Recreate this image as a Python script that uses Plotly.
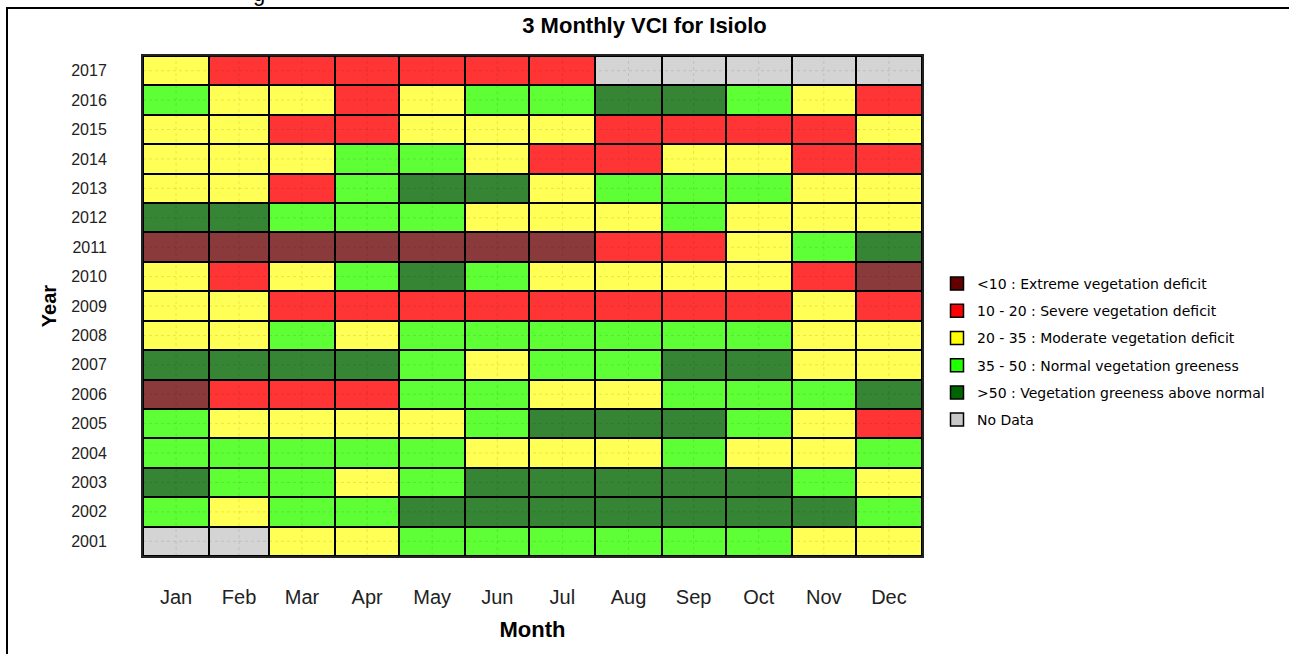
import plotly.graph_objects as go
import numpy as np

# ---------------- data ----------------
months = ["Jan", "Feb", "Mar", "Apr", "May", "Jun", "Jul", "Aug", "Sep", "Oct", "Nov", "Dec"]
month_days = [31, 28, 31, 30, 31, 30, 31, 31, 30, 31, 30, 31]
years = list(range(2001, 2018))

# VCI class per month: E <10, S 10-20, M 20-35, N 35-50, A >50, X no data
vci_2001 = ["X", "X", "M", "M", "N", "N", "N", "N", "N", "N", "M", "M"]
vci_2002 = ["N", "M", "N", "N", "A", "A", "A", "A", "A", "A", "A", "N"]
vci_2003 = ["A", "N", "N", "M", "N", "A", "A", "A", "A", "A", "N", "M"]
vci_2004 = ["N", "N", "N", "N", "N", "M", "M", "M", "N", "M", "M", "N"]
vci_2005 = ["N", "M", "M", "M", "M", "N", "A", "A", "A", "N", "M", "S"]
vci_2006 = ["E", "S", "S", "S", "N", "N", "M", "M", "N", "N", "N", "A"]
vci_2007 = ["A", "A", "A", "A", "N", "M", "N", "N", "A", "A", "M", "M"]
vci_2008 = ["M", "M", "N", "M", "N", "N", "N", "N", "N", "N", "M", "M"]
vci_2009 = ["M", "M", "S", "S", "S", "S", "S", "S", "S", "S", "M", "S"]
vci_2010 = ["M", "S", "M", "N", "A", "N", "M", "M", "M", "M", "S", "E"]
vci_2011 = ["E", "E", "E", "E", "E", "E", "E", "S", "S", "M", "N", "A"]
vci_2012 = ["A", "A", "N", "N", "N", "M", "M", "M", "N", "M", "M", "M"]
vci_2013 = ["M", "M", "S", "N", "A", "A", "M", "N", "N", "N", "M", "M"]
vci_2014 = ["M", "M", "M", "N", "N", "M", "S", "S", "M", "M", "S", "S"]
vci_2015 = ["M", "M", "S", "S", "M", "M", "M", "S", "S", "S", "S", "M"]
vci_2016 = ["N", "M", "M", "S", "M", "N", "N", "A", "A", "N", "M", "S"]
vci_2017 = ["M", "S", "S", "S", "S", "S", "S", "X", "X", "X", "X", "X"]

class_codes = ["E", "S", "M", "N", "A", "X"]
class_labels = [
    "<10 : Extreme vegetation deficit",
    "10 - 20 : Severe vegetation deficit",
    "20 - 35 : Moderate vegetation deficit",
    "35 - 50 : Normal vegetation greeness",
    ">50 : Vegetation greeness above normal",
    "No Data",
]
cell_colors = ["#8a3a3a", "#ff3535", "#ffff55", "#5fff35", "#358535", "#d4d4d4"]
legend_colors = ["#640000", "#ff0000", "#ffff00", "#22ff00", "#006400", "#c8c8c8"]

# ---------------- build ----------------
rows = [vci_2001, vci_2002, vci_2003, vci_2004, vci_2005, vci_2006, vci_2007, vci_2008,
        vci_2009, vci_2010, vci_2011, vci_2012, vci_2013, vci_2014, vci_2015, vci_2016, vci_2017]
z = [[class_codes.index(c) for c in r] for r in rows]
hover = [[class_labels[class_codes.index(c)] for c in r] for r in rows]

edges = np.concatenate([[0], np.cumsum(month_days)])
centers = (edges[:-1] + edges[1:]) / 2

n = len(class_codes)
colorscale = []
for i, c in enumerate(cell_colors):
    colorscale.append([i / n, c])
    colorscale.append([(i + 1) / n, c])

fig = go.Figure()
fig.add_trace(go.Heatmap(
    x=edges, y=years, z=z, zmin=-0.5, zmax=n - 0.5,
    colorscale=colorscale, showscale=False, xgap=2, ygap=2,
    customdata=hover,
    hovertemplate="%{y}<br>%{customdata}<extra></extra>",
    showlegend=False,
))
for i, lab in enumerate(class_labels):
    fig.add_trace(go.Scatter(
        x=[None], y=[None], mode="markers", name=lab, legendgroup=f"g{i}",
        marker=dict(symbol="square", size=13, color=legend_colors[i],
                    line=dict(color="#000000", width=1.5)),
    ))

# faint dotted grid at tick positions, drawn over the cells
for c in centers:
    fig.add_shape(type="line", xref="x", yref="paper", x0=c, x1=c, y0=0, y1=1,
                  line=dict(color="rgba(0,0,0,0.10)", width=1, dash="dot"), layer="above")
for yv in years:
    fig.add_shape(type="line", xref="paper", yref="y", x0=0, x1=1, y0=yv, y1=yv,
                  line=dict(color="rgba(0,0,0,0.10)", width=1, dash="dot"), layer="above")

# outer frame of the image
L, R, T, B = 143, 922, 56, 556
def px_x(p):
    return (p - L) / (R - L)
def px_y(p):
    return (B - p) / (B - T)
fig.add_shape(type="rect", xref="paper", yref="paper",
              x0=px_x(7), x1=px_x(1300), y0=px_y(8), y1=px_y(670),
              line=dict(color="#000000", width=2), fillcolor="rgba(0,0,0,0)", layer="above")
fig.add_annotation(text="g", xref="paper", yref="paper", x=px_x(259), y=px_y(8),
                   xanchor="center", yanchor="bottom", showarrow=False,
                   font=dict(family="Liberation Sans, Arial", size=22, color="#000000"))

fig.update_layout(
    width=1289, height=654,
    margin=dict(l=L, r=1289 - R, t=T, b=654 - B),
    paper_bgcolor="white", plot_bgcolor="#000000",
    title=dict(text="<b>3 Monthly VCI for Isiolo</b>", x=0.5, xref="container",
               y=1 - 25 / 654, yref="container", xanchor="center", yanchor="middle",
               font=dict(family="Liberation Sans, Arial", size=22, color="#000000")),
    legend=dict(x=px_x(937), y=px_y(268), xanchor="left", yanchor="top",
                font=dict(family="DejaVu Sans", size=14, color="#000000"),
                tracegroupgap=6, bgcolor="rgba(0,0,0,0)", itemclick=False),
    hovermode="closest",
)
fig.update_xaxes(
    range=[0, 365], tickvals=centers, ticktext=months, showgrid=False, zeroline=False,
    showline=True, linecolor="#222222", linewidth=2, mirror=True, ticks="",
    ticklabelstandoff=22,
    tickfont=dict(family="Liberation Sans, Arial", size=20, color="#222222"),
    title=dict(text="<b>Month</b>", standoff=15,
               font=dict(family="Liberation Sans, Arial", size=22, color="#000000")),
)
fig.update_yaxes(
    range=[2000.5, 2017.5], tickvals=years, ticktext=[str(y) for y in years],
    showgrid=False, zeroline=False,
    showline=True, linecolor="#222222", linewidth=2, mirror=True, ticks="",
    ticklabelstandoff=31,
    tickfont=dict(family="Liberation Sans, Arial", size=16, color="#222222"),
    title=dict(text="<b>Year</b>", standoff=9,
               font=dict(family="Liberation Sans, Arial", size=20, color="#000000")),
)

# remove the page's default body margin so the figure sits at the window's corner
fig.write_html("out.html", config={"displayModeBar": False},
               post_script="document.body.style.margin='0';")
